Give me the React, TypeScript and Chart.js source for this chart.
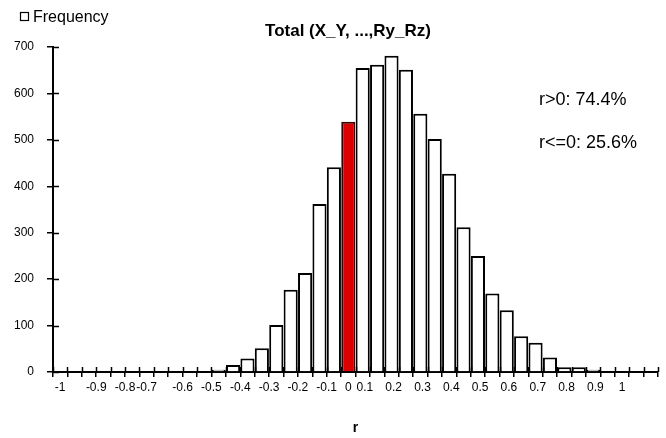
import React, { useEffect, useRef } from "react";
import { Chart, registerables } from "chart.js";

Chart.register(...registerables);

// ---- data ----
const binLabels = [
  "-1", "-0.95", "-0.9", "-0.85", "-0.8", "-0.75", "-0.7", "-0.65", "-0.6", "-0.55",
  "-0.5", "-0.45", "-0.4", "-0.35", "-0.3", "-0.25", "-0.2", "-0.15", "-0.1", "-0.05",
  "0", "0.05", "0.1", "0.15", "0.2", "0.25", "0.3", "0.35", "0.4", "0.45",
  "0.5", "0.55", "0.6", "0.65", "0.7", "0.75", "0.8", "0.85", "0.9", "0.95",
  "1", "1.05",
];
const frequency = [
  0, 0, 0, 0, 0, 0, 0, 0, 2, 0,
  2, 5, 15, 29, 51, 101, 177, 213, 362, 441,
  539, 655, 662, 681, 651, 556, 502, 427, 312, 250,
  169, 133, 77, 63, 31, 10, 10, 5, 0, 0,
  0, 0,
];
const highlightBin = "0";

const xTickLabels = [
  "-1", "-0.9", "-0.8", "-0.7", "-0.6", "-0.5", "-0.4", "-0.3", "-0.2", "-0.1",
  "0", "0.1", "0.2", "0.3", "0.4", "0.5", "0.6", "0.7", "0.8", "0.9", "1",
];
// layout: bin index under which each x label is centred (as in the original)
const xTickAt = [0, 2.5, 4.5, 6, 8.5, 10.5, 12.5, 14.5, 16.5, 18.5, 20, 21.15, 23.15, 25.15, 27.15, 29.15, 31.15, 33.15, 35.15, 37.15, 39];

const yTicks = [0, 100, 200, 300, 400, 500, 600, 700];

const chartTitle = "Total (X_Y, ...,Ry_Rz)";
const seriesName = "Frequency";
const xAxisTitle = "r";
const notes = ["r>0: 74.4%", "r<=0: 25.6%"];

const FONT = '"Liberation Sans", Arial, sans-serif';

const overlayPlugin = {
  id: "overlay",
  afterDraw(chart: any) {
    const { ctx } = chart;
    const xs = chart.scales.x;
    const ys = chart.scales.y;
    ctx.save();
    ctx.strokeStyle = "#000";
    ctx.lineWidth = 1.5;
    // upward halves of the crossing x tick marks
    for (let i = 0; i <= frequency.length; i++) {
      const px = Math.round(xs.getPixelForValue(i - 0.5)) + 0.5;
      ctx.beginPath();
      ctx.moveTo(px, ys.bottom);
      ctx.lineTo(px, ys.bottom - 5);
      ctx.stroke();
    }
    // right halves of crossing y tick marks
    ys.ticks.forEach((t: any) => {
      const py = Math.round(ys.getPixelForValue(t.value)) + 0.5;
      ctx.beginPath();
      ctx.moveTo(ys.right, py);
      ctx.lineTo(ys.right + 6, py);
      ctx.stroke();
    });
    // legend
    ctx.lineWidth = 1.2;
    ctx.strokeRect(20.5, 12.5, 8, 8);
    ctx.fillStyle = "#000";
    ctx.font = `16px ${FONT}`;
    ctx.textBaseline = "middle";
    ctx.textAlign = "left";
    ctx.fillText(seriesName, 33, 18);
    // title
    ctx.font = `bold 17px ${FONT}`;
    ctx.textAlign = "center";
    ctx.fillText(chartTitle, 348, 31);
    // notes
    ctx.font = `18px ${FONT}`;
    ctx.textAlign = "left";
    ctx.fillText(notes[0], 539, 100);
    ctx.fillText(notes[1], 539, 143);
    ctx.restore();
  },
};

export default function App() {
  const ref = useRef<HTMLCanvasElement | null>(null);
  useEffect(() => {
    if (!ref.current) return;
    Chart.defaults.font.family = FONT;
    Chart.defaults.color = "#000";
    const chart = new Chart(ref.current, {
      type: "bar",
      data: {
        labels: binLabels,
        datasets: [
          {
            label: seriesName,
            data: frequency,
            xAxisID: "x",
            yAxisID: "y",
            backgroundColor: binLabels.map((b) => (b === highlightBin ? "#DD0000" : "#FFFFFF")),
            borderColor: binLabels.map((b) => (b === highlightBin ? "#3a0000" : "#000000")),
            borderWidth: 2,
            barPercentage: 0.98,
            categoryPercentage: 1,
          },
        ],
      },
      options: {
        responsive: false,
        animation: false,
        layout: { padding: { top: 47, right: 8, left: 0, bottom: 0 } },
        plugins: {
          legend: { display: false },
          title: { display: false },
          tooltip: { enabled: false },
        },
        scales: {
          x: {
            type: "category",
            position: "bottom",
            offset: true,
            grid: {
              display: true,
              offset: true,
              drawOnChartArea: false,
              drawTicks: true,
              tickLength: 5,
              color: "#000",
              lineWidth: 1.5,
            },
            border: { display: true, color: "#000", width: 2 },
            ticks: { display: false },
            afterFit: (s: any) => {
              s.height = 0;
            },
          },
          x2: {
            type: "linear",
            position: "bottom",
            offset: false,
            min: -0.5,
            max: frequency.length - 0.5,
            grid: { display: false, drawTicks: false, offset: false },
            border: { display: false },
            afterBuildTicks: (s: any) => {
              s.ticks = xTickAt.map((v) => ({ value: v }));
            },
            ticks: {
              autoSkip: false,
              maxRotation: 0,
              padding: 8,
              color: "#000",
              font: { size: 12, family: FONT },
              callback: (_v: any, i: number) => xTickLabels[i],
            },
            title: {
              display: true,
              text: xAxisTitle,
              color: "#000",
              font: { size: 14, weight: "bold", family: FONT },
              padding: { top: 0, bottom: 1 },
            },
            afterFit: (s: any) => {
              s.height = 66;
            },
          },
          y: {
            min: 0,
            max: 700,
            afterBuildTicks: (s: any) => {
              s.ticks = yTicks.map((v) => ({ value: v }));
            },
            ticks: {
              padding: 13,
              color: "#000",
              font: { size: 12, family: FONT },
            },
            grid: { drawOnChartArea: false, tickLength: 6, color: "#000", lineWidth: 1.5 },
            border: { color: "#000", width: 2 },
            afterFit: (s: any) => {
              s.width = 53;
            },
          },
        },
      },
      plugins: [overlayPlugin],
    } as any);
    return () => chart.destroy();
  }, []);
  return (
    <div style={{ position: "fixed", left: 0, top: 0, width: 666, height: 438, background: "#fff" }}>
      <canvas ref={ref} width={666} height={438} />
    </div>
  );
}
